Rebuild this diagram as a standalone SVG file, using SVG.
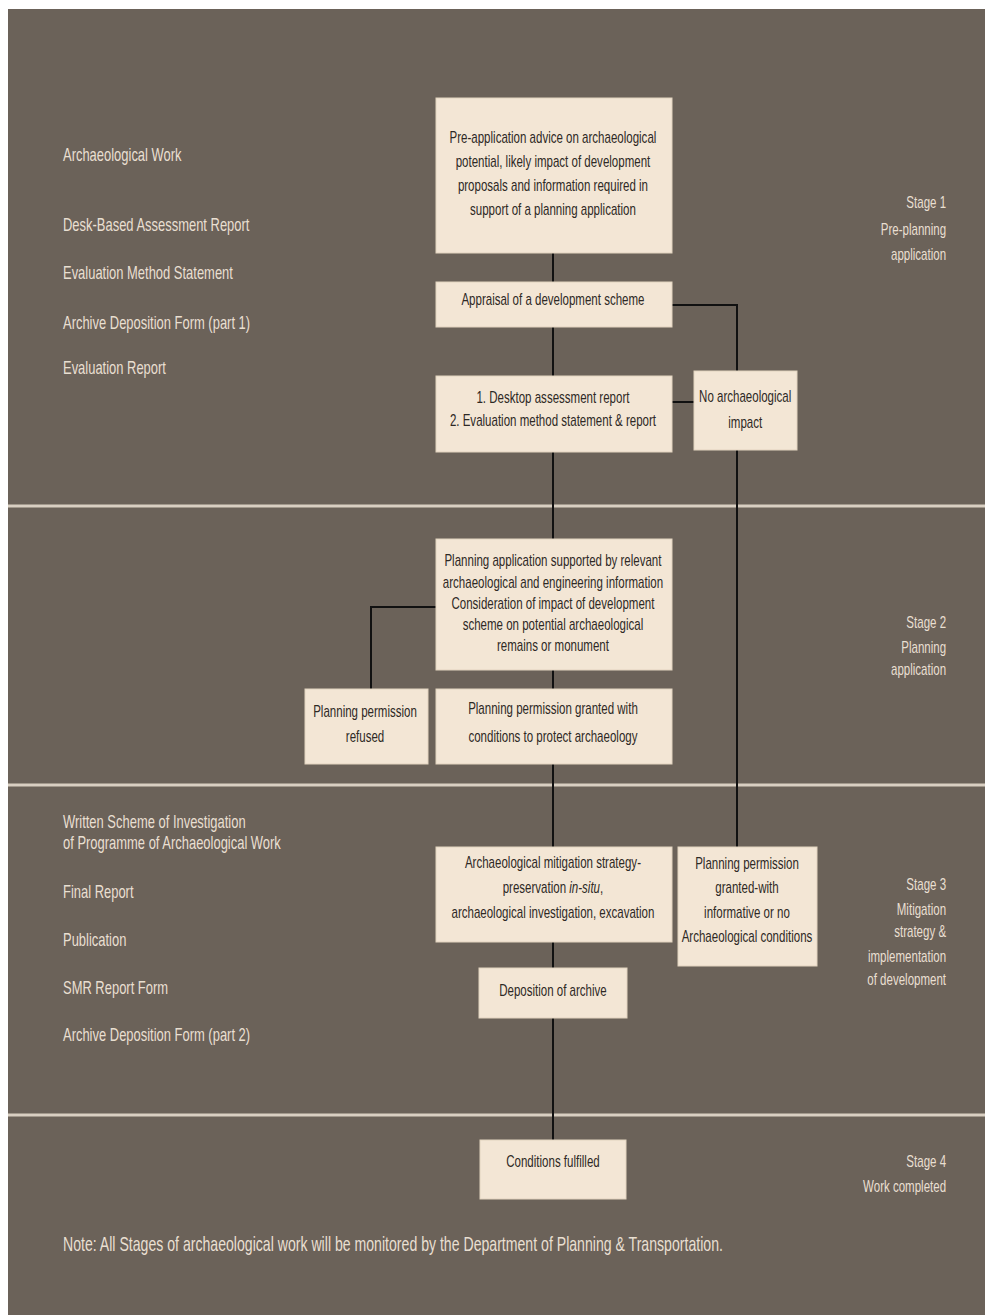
<svg xmlns="http://www.w3.org/2000/svg" width="985" height="1315" viewBox="0 0 985 1315">
<style>
.box{fill:#f3e6d5;stroke:#e2d3bf;stroke-width:1}
.bt{font-family:"Liberation Sans",Arial,sans-serif;font-size:16px;fill:#2e2925;text-anchor:middle}
.lt{font-family:"Liberation Sans",Arial,sans-serif;font-size:18px;fill:#e9dfd1}
.st{font-family:"Liberation Sans",Arial,sans-serif;font-size:16px;fill:#e9dfd1;text-anchor:end}
.sep{stroke:#d9cfc2;stroke-width:3}
.con{fill:none;stroke:#111;stroke-width:2}
</style>
<rect x="0" y="0" width="985" height="1315" fill="#ffffff"/>
<rect x="8" y="9" width="977" height="1306" fill="#6b6259"/>
<g id="separators">
<line class="sep" x1="8" y1="506" x2="985" y2="506"/>
<line class="sep" x1="8" y1="785" x2="985" y2="785"/>
<line class="sep" x1="8" y1="1115" x2="985" y2="1115"/>
</g>
<g id="connectors">
<path class="con" d="M553 253 V1140"/>
<path class="con" d="M672 305 H737 V847"/>
<path class="con" d="M672 402 H694"/>
<path class="con" d="M436 607 H371 V689"/>
</g>
<g id="n1"><rect class="box" x="436" y="98" width="236" height="155"/>
<g transform="scale(0.72 1)"><text class="bt" x="768" y="143.5">Pre-application advice on archaeological</text><text class="bt" x="768" y="167.5">potential, likely impact of development</text><text class="bt" x="768" y="191.5">proposals and information required in</text><text class="bt" x="768" y="215.5">support of a planning application</text></g></g>
<g id="n2"><rect class="box" x="436" y="282" width="236" height="45"/>
<g transform="scale(0.72 1)"><text class="bt" x="768" y="305.5">Appraisal of a development scheme</text></g></g>
<g id="n3"><rect class="box" x="436" y="376" width="236" height="76"/>
<g transform="scale(0.72 1)"><text class="bt" x="768" y="403.5">1. Desktop assessment report</text><text class="bt" x="768" y="426.5">2. Evaluation method statement &amp; report</text></g></g>
<g id="n4"><rect class="box" x="694" y="371" width="103" height="79"/>
<g transform="scale(0.72 1)"><text class="bt" x="1035" y="402.5">No archaeological</text><text class="bt" x="1035" y="428.5">impact</text></g></g>
<g id="n5"><rect class="box" x="436" y="539" width="236" height="131"/>
<g transform="scale(0.72 1)"><text class="bt" x="768" y="566.5">Planning application supported by relevant</text><text class="bt" x="768" y="588">archaeological and engineering information</text><text class="bt" x="768" y="609.5">Consideration of impact of development</text><text class="bt" x="768" y="630.5">scheme on potential archaeological</text><text class="bt" x="768" y="651.5">remains or monument</text></g></g>
<g id="n6"><rect class="box" x="305" y="689" width="123" height="75"/>
<g transform="scale(0.72 1)"><text class="bt" x="507" y="717.5">Planning permission</text><text class="bt" x="507" y="742.5">refused</text></g></g>
<g id="n7"><rect class="box" x="436" y="689" width="236" height="75"/>
<g transform="scale(0.72 1)"><text class="bt" x="768" y="714.5">Planning permission granted with</text><text class="bt" x="768" y="742.5">conditions to protect archaeology</text></g></g>
<g id="n8"><rect class="box" x="436" y="847" width="236" height="95"/>
<g transform="scale(0.72 1)"><text class="bt" x="768" y="868.5">Archaeological mitigation strategy-</text><text class="bt" x="768" y="893.5">preservation <tspan font-style="italic">in-situ</tspan>,</text><text class="bt" x="768" y="918.5">archaeological investigation, excavation</text></g></g>
<g id="n9"><rect class="box" x="678" y="847" width="139" height="119"/>
<g transform="scale(0.72 1)"><text class="bt" x="1037.5" y="869.5">Planning permission</text><text class="bt" x="1037.5" y="893.5">granted-with</text><text class="bt" x="1037.5" y="918.5">informative or no</text><text class="bt" x="1037.5" y="942.5">Archaeological conditions</text></g></g>
<g id="n10"><rect class="box" x="479" y="968" width="148" height="50"/>
<g transform="scale(0.72 1)"><text class="bt" x="768" y="996.5">Deposition of archive</text></g></g>
<g id="n11"><rect class="box" x="480" y="1140" width="146" height="59"/>
<g transform="scale(0.72 1)"><text class="bt" x="768" y="1167.5">Conditions fulfilled</text></g></g>
<g id="left-labels" transform="scale(0.72 1)">
<text class="lt" x="87.5" y="161.5">Archaeological Work</text>
<text class="lt" x="87.5" y="231.5">Desk-Based Assessment Report</text>
<text class="lt" x="87.5" y="279.5">Evaluation Method Statement</text>
<text class="lt" x="87.5" y="329.5">Archive Deposition Form (part 1)</text>
<text class="lt" x="87.5" y="374.5">Evaluation Report</text>
<text class="lt" x="87.5" y="828.5">Written Scheme of Investigation</text>
<text class="lt" x="87.5" y="849.5">of Programme of Archaeological Work</text>
<text class="lt" x="87.5" y="898.5">Final Report</text>
<text class="lt" x="87.5" y="946.5">Publication</text>
<text class="lt" x="87.5" y="994.5">SMR Report Form</text>
<text class="lt" x="87.5" y="1041.5">Archive Deposition Form (part 2)</text>
</g>
<g id="stage-labels" transform="scale(0.72 1)">
<text class="st" x="1314" y="208.5">Stage 1</text>
<text class="st" x="1314" y="235.5">Pre-planning</text>
<text class="st" x="1314" y="260.5">application</text>
<text class="st" x="1314" y="628.5">Stage 2</text>
<text class="st" x="1314" y="653.5">Planning</text>
<text class="st" x="1314" y="675.5">application</text>
<text class="st" x="1314" y="890.5">Stage 3</text>
<text class="st" x="1314" y="915.5">Mitigation</text>
<text class="st" x="1314" y="937.5">strategy &amp;</text>
<text class="st" x="1314" y="962.5">implementation</text>
<text class="st" x="1314" y="985.5">of development</text>
<text class="st" x="1314" y="1167.5">Stage 4</text>
<text class="st" x="1314" y="1192.5">Work completed</text>
</g>
<g id="note" transform="scale(0.72 1)">
<text class="lt" x="87.5" y="1251" style="font-size:19.6px">Note: All Stages of archaeological work will be monitored by the Department of Planning &amp; Transportation.</text>
</g>
</svg>
